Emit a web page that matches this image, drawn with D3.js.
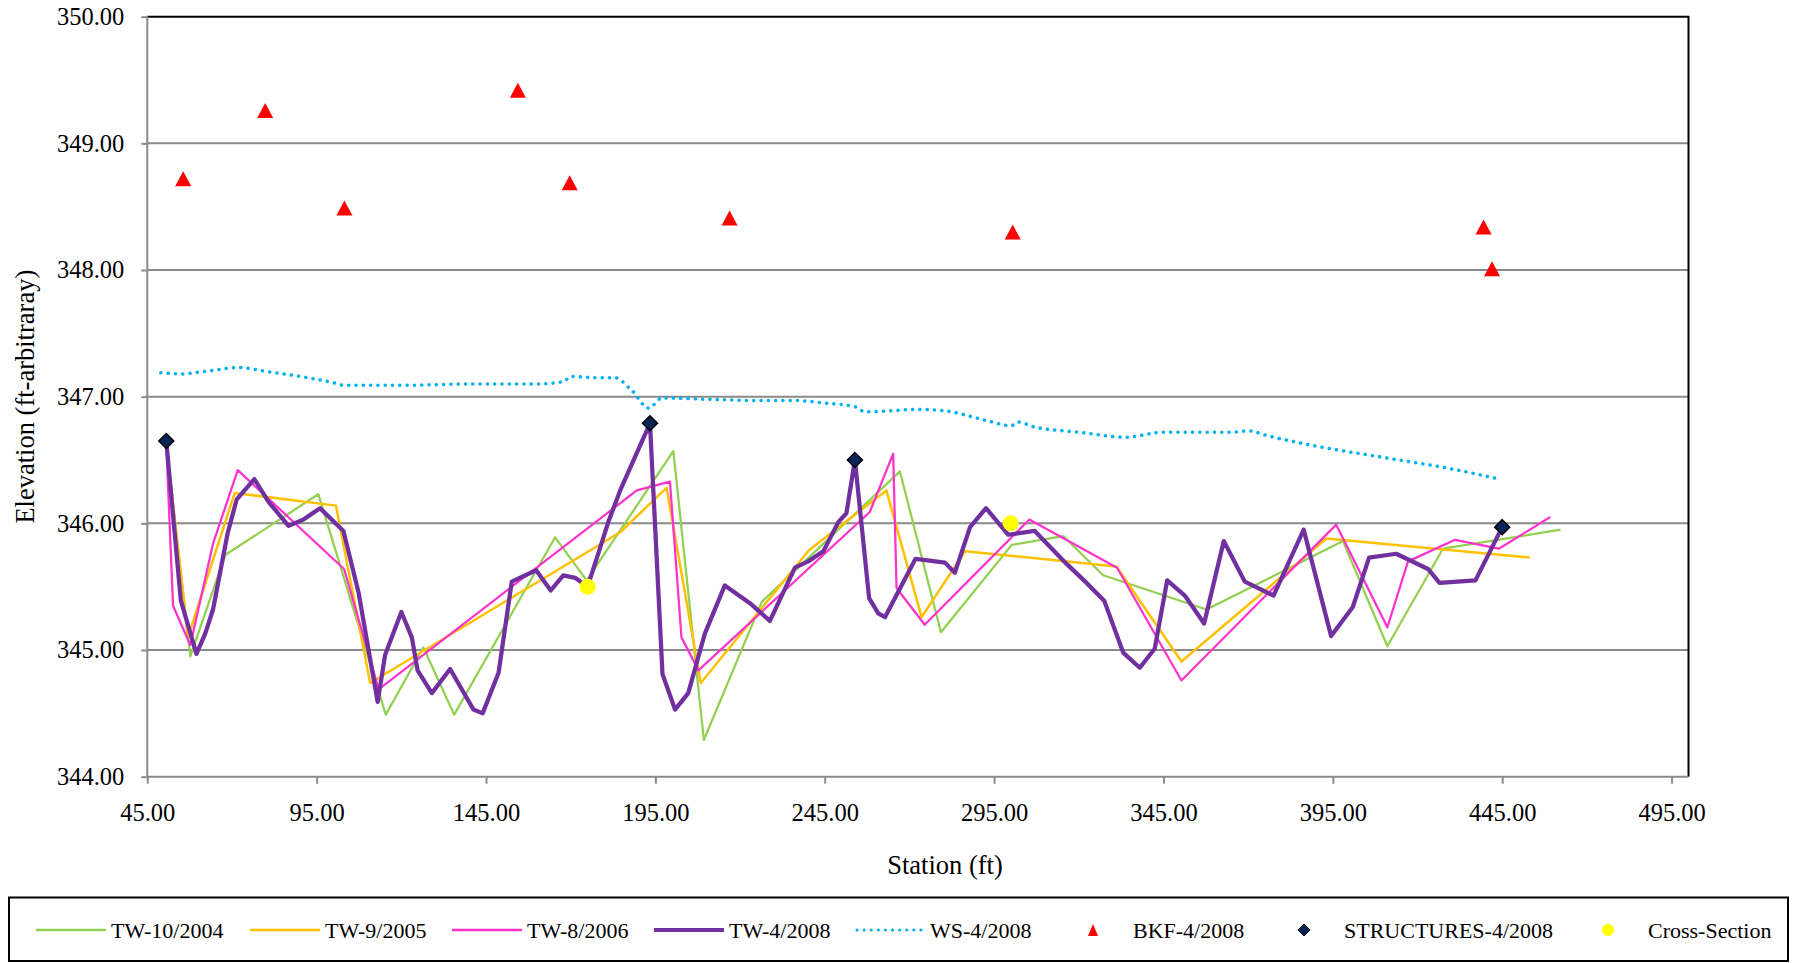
<!DOCTYPE html>
<html>
<head>
<meta charset="utf-8">
<script src="https://cdn.jsdelivr.net/npm/d3@7"></script>
<style>
  html, body { margin: 0; padding: 0; background: #fff; }
  svg { display: block; }
  text { font-family: "Liberation Serif", "Times New Roman", serif; fill: #000; }
</style>
</head>
<body>
<svg id="chart" width="1795" height="963"></svg>
<script>
// ---------------- DATA ----------------
const xTicks = [45, 95, 145, 195, 245, 295, 345, 395, 445, 495];
const yTicks = [344, 345, 346, 347, 348, 349, 350];

// [station (ft), elevation]
const tw2004 = [[50.6,346.63],[57.7,344.95],[68.0,345.75],[95.5,346.23],[115.4,344.49],[126.5,345.02],[135.6,344.49],[165.4,345.89],[174.7,345.55],[200.3,346.57],[209.3,344.29],[226.4,345.38],[267.2,346.41],[279.3,345.14],[300.2,345.83],[315.4,345.90],[327.2,345.59],[357.7,345.32],[398.0,345.86],[411.1,345.03],[427.5,345.80],[462.2,345.95]];

const tw2005 = [[50.6,346.63],[57.0,345.10],[70.8,346.24],[100.7,346.14],[110.8,344.74],[184.6,345.93],[198.3,346.28],[208.4,344.74],[240.4,345.79],[263.2,346.26],[273.6,345.26],[286.4,345.78],[331.1,345.66],[350.3,344.91],[393.1,345.88],[453.1,345.73]];

const tw2006 = [[50.6,346.63],[52.6,345.35],[57.7,345.04],[64.4,345.84],[71.7,346.42],[103.1,345.64],[113.3,344.69],[189.5,346.26],[199.3,346.33],[202.7,345.10],[207.7,344.84],[258.3,346.09],[265.2,346.55],[266.2,345.49],[274.5,345.20],[305.4,346.03],[331.3,345.65],[350.3,344.76],[396.0,345.99],[411.1,345.18],[417.2,345.70],[431.1,345.87],[444.0,345.80],[459.2,346.05]];

const tw2008 = [[50.6,346.65],[54.9,345.39],[59.5,344.97],[62.1,345.13],[64.4,345.32],[68.7,345.92],[71.4,346.19],[76.6,346.35],[80.8,346.17],[86.7,345.98],[91.1,346.03],[96.0,346.12],[102.9,345.94],[107.4,345.45],[113.0,344.59],[115.2,344.96],[120.0,345.30],[123.1,345.10],[124.8,344.84],[129.0,344.66],[134.4,344.85],[141.3,344.53],[144.0,344.50],[148.7,344.82],[152.6,345.54],[159.8,345.63],[164.1,345.47],[167.8,345.59],[171.3,345.57],[175.0,345.50],[181.1,346.01],[184.6,346.26],[193.4,346.79],[197.1,344.81],[200.8,344.53],[204.7,344.66],[209.6,345.13],[215.5,345.51],[222.9,345.37],[228.8,345.23],[236.2,345.65],[240.1,345.70],[244.6,345.78],[249.0,346.01],[251.4,346.08],[253.9,346.50],[258.1,345.41],[260.8,345.29],[262.8,345.26],[271.8,345.72],[280.5,345.69],[283.4,345.61],[287.9,345.97],[292.6,346.12],[299.2,345.91],[307.0,345.94],[316.4,345.68],[322.3,345.53],[327.5,345.39],[333.1,344.98],[338.0,344.86],[342.4,345.01],[346.1,345.55],[351.3,345.43],[357.0,345.21],[362.8,345.86],[369.0,345.54],[377.5,345.43],[386.4,345.95],[394.5,345.11],[400.9,345.34],[405.7,345.73],[413.7,345.76],[423.1,345.64],[426.5,345.53],[437.1,345.55],[445.0,345.97]];

const ws2008 = [[49.0,347.19],[55.0,347.18],[62.0,347.20],[72.0,347.23],[80.0,347.20],[90.0,347.16],[100.0,347.11],[103.0,347.09],[120.0,347.09],[140.0,347.10],[160.0,347.10],[168.0,347.12],[170.0,347.16],[178.0,347.15],[183.0,347.15],[188.0,347.05],[193.0,346.91],[197.0,346.99],[210.0,346.98],[225.0,346.97],[236.0,346.97],[245.0,346.95],[254.0,346.92],[257.0,346.88],[265.0,346.89],[272.0,346.90],[280.0,346.89],[293.0,346.81],[300.0,346.77],[302.0,346.80],[307.0,346.76],[320.0,346.72],[334.0,346.68],[345.0,346.72],[352.0,346.72],[365.0,346.72],[370.0,346.73],[376.0,346.69],[390.0,346.61],[410.0,346.52],[430.0,346.43],[444.0,346.35]];

const bkf2008 = [[55.6,348.72],[79.8,349.26],[103.2,348.49],[154.4,349.42],[169.7,348.69],[216.9,348.41],[300.5,348.30],[439.5,348.34],[442.0,348.01]];

const structures2008 = [[50.6,346.65],[193.4,346.79],[253.9,346.50],[445.0,345.97]];

const crossSection = [[175.0,345.50],[299.9,346.00]];

const legendLabels = ["TW-10/2004","TW-9/2005","TW-8/2006","TW-4/2008","WS-4/2008","BKF-4/2008","STRUCTURES-4/2008","Cross-Section"];

// ---------------- CHART ----------------
const svg = d3.select("#chart");
const plot = {left: 147.3, right: 1688.5, top: 16.7, bottom: 776.7};

const x = d3.scaleLinear().domain([45, 500]).range([plot.left, plot.right]);
const y = d3.scaleLinear().domain([344, 350]).range([plot.bottom, plot.top]);

const gridColor = "#8a8a8a";

// gridlines
svg.append("g").selectAll("line")
  .data(yTicks.filter(d => d > 344 && d < 350))
  .join("line")
  .attr("x1", plot.left).attr("x2", plot.right)
  .attr("y1", d => y(d)).attr("y2", d => y(d))
  .attr("stroke", gridColor).attr("stroke-width", 2);

// plot border top & right (black)
svg.append("path")
  .attr("d", `M${plot.left},${plot.top}H${plot.right}V${plot.bottom}`)
  .attr("fill", "none").attr("stroke", "#000").attr("stroke-width", 2);

// axes
const yAxis = d3.axisLeft(y).tickValues(yTicks).tickFormat(d3.format(".2f")).tickSize(6).tickPadding(17);
const xAxis = d3.axisBottom(x).tickValues(xTicks).tickFormat(d3.format(".2f")).tickSize(7).tickPadding(20);

const gy = svg.append("g").attr("transform", `translate(${plot.left},0)`).call(yAxis);
const gx = svg.append("g").attr("transform", `translate(0,${plot.bottom})`).call(xAxis);
[gx, gy].forEach(g => {
  g.attr("font-family", '"Liberation Serif", serif').attr("font-size", 24.5);
  g.select(".domain").attr("stroke", gridColor).attr("stroke-width", 2);
  g.selectAll(".tick line").attr("stroke", gridColor).attr("stroke-width", 2);
  g.selectAll(".tick text").attr("fill", "#000");
});
gx.select(".domain").attr("d", `M${plot.left},0H${plot.right}`);
gy.select(".domain").attr("d", `M0,${plot.top}V${plot.bottom}`);

// axis titles
svg.append("text")
  .attr("x", 945).attr("y", 865)
  .attr("text-anchor", "middle").attr("dominant-baseline", "central")
  .attr("font-size", 26.5)
  .text("Station (ft)");
svg.append("text")
  .attr("transform", `translate(25,${(plot.top + plot.bottom) / 2}) rotate(-90)`)
  .attr("text-anchor", "middle").attr("dominant-baseline", "central")
  .attr("font-size", 26.5)
  .text("Elevation (ft-arbitraray)");

// series lines
const line = d3.line().x(d => x(d[0])).y(d => y(d[1]));
const lineSeries = [
  {data: tw2004, color: "#92D050", width: 2.25},
  {data: tw2005, color: "#FFC000", width: 2.5},
  {data: tw2006, color: "#FF33CC", width: 2.25},
  {data: tw2008, color: "#7030A0", width: 4.25}
];
const gLines = svg.append("g");
lineSeries.forEach(s => {
  gLines.append("path")
    .attr("d", line(s.data))
    .attr("fill", "none")
    .attr("stroke", s.color)
    .attr("stroke-width", s.width)
    .attr("stroke-linejoin", "round");
});

// WS dotted line
svg.append("path")
  .attr("d", d3.line().curve(d3.curveMonotoneX).x(d => x(d[0])).y(d => y(d[1]))(ws2008))
  .attr("fill", "none")
  .attr("stroke", "#00B0F0")
  .attr("stroke-width", 3.5)
  .attr("stroke-linecap", "round")
  .attr("stroke-dasharray", "0.1 7.2");

// marker shapes
const triPath = (w, h) => `M0,${-h/2}L${w/2},${h/2}L${-w/2},${h/2}Z`;
const diaPath = (s) => `M0,${-s/2}L${s/2},0L0,${s/2}L${-s/2},0Z`;

svg.append("g").selectAll("path")
  .data(bkf2008)
  .join("path")
  .attr("transform", d => `translate(${x(d[0])},${y(d[1])})`)
  .attr("d", triPath(16, 15))
  .attr("fill", "#FF0000");

svg.append("g").selectAll("path")
  .data(structures2008)
  .join("path")
  .attr("transform", d => `translate(${x(d[0])},${y(d[1])})`)
  .attr("d", diaPath(15))
  .attr("fill", "#0B2458")
  .attr("stroke", "#000")
  .attr("stroke-width", 1.5);

svg.append("g").selectAll("circle")
  .data(crossSection)
  .join("circle")
  .attr("cx", d => x(d[0])).attr("cy", d => y(d[1]))
  .attr("r", 8)
  .attr("fill", "#FFFF00");

// ---------------- LEGEND ----------------
svg.append("rect")
  .attr("x", 9).attr("y", 897.5).attr("width", 1779).attr("height", 63.5)
  .attr("fill", "#fff").attr("stroke", "#000").attr("stroke-width", 2);

const legY = 930;
const legStarts = [36, 250, 452, 654, 855, 1058, 1269, 1573];
const legendSpec = [
  {type: "line", color: "#92D050", width: 2.5},
  {type: "line", color: "#FFC000", width: 2.5},
  {type: "line", color: "#FF33CC", width: 2.5},
  {type: "line", color: "#7030A0", width: 4},
  {type: "dot", color: "#00B0F0", width: 3},
  {type: "tri", color: "#FF0000"},
  {type: "dia", color: "#0B2458"},
  {type: "circ", color: "#FFFF00"}
];
const gLeg = svg.append("g");
legendLabels.forEach((lab, i) => {
  const sx = legStarts[i], spec = legendSpec[i];
  const g = gLeg.append("g");
  if (spec.type === "line") {
    g.append("line").attr("x1", sx).attr("x2", sx + 70).attr("y1", legY).attr("y2", legY)
      .attr("stroke", spec.color).attr("stroke-width", spec.width);
  } else if (spec.type === "dot") {
    g.append("line").attr("x1", sx + 2).attr("x2", sx + 70).attr("y1", legY).attr("y2", legY)
      .attr("stroke", spec.color).attr("stroke-width", spec.width)
      .attr("stroke-linecap", "round").attr("stroke-dasharray", "0.1 7");
  } else if (spec.type === "tri") {
    g.append("path").attr("transform", `translate(${sx + 35},${legY})`).attr("d", triPath(10, 12)).attr("fill", spec.color);
  } else if (spec.type === "dia") {
    g.append("path").attr("transform", `translate(${sx + 35},${legY})`).attr("d", diaPath(12))
      .attr("fill", spec.color).attr("stroke", "#000").attr("stroke-width", 1);
  } else {
    g.append("circle").attr("cx", sx + 35).attr("cy", legY).attr("r", 6).attr("fill", spec.color);
  }
  g.append("text")
    .attr("x", sx + 75).attr("y", legY)
    .attr("dominant-baseline", "central")
    .attr("font-size", 22)
    .text(lab);
});
</script>
</body>
</html>
